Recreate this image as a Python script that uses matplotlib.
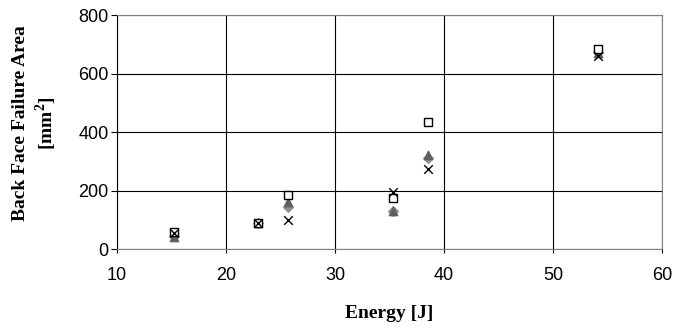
import matplotlib.pyplot as plt

# impact energy [J] for each test
energy = [15.2, 22.9, 25.7, 35.3, 38.5, 54.1]

# back face failure area [mm^2] per series
area_square = [57, 88, 185, 175, 433, 685]
area_diamond = [45, 88, 145, 130, 312, 675]
area_triangle = [40, 88, 160, 130, 323, 672]
area_cross = [55, 88, 100, 195, 275, 660]

plt.rcParams['font.family'] = ['Liberation Sans', 'DejaVu Sans']
plt.rcParams['mathtext.fontset'] = 'custom'
plt.rcParams['mathtext.bf'] = 'Liberation Serif:bold'
plt.rcParams['mathtext.rm'] = 'Liberation Serif:bold'

fig = plt.figure(figsize=(6.77, 3.29), dpi=100)
ax = fig.add_axes([0.173, 0.243, 0.805, 0.711])

ax.scatter(energy, area_diamond, marker='D', s=24, color='#909090', zorder=3)
ax.scatter(energy, area_triangle, marker='^', s=36, color='#606060', zorder=4)
ax.scatter(energy, area_square, marker='s', s=32, facecolor='white', edgecolor='black', linewidth=1, zorder=5)
ax.scatter(energy, area_cross, marker='x', s=38, color='black', linewidth=1, zorder=6)

ax.set_xlim(10, 60)
ax.set_ylim(0, 800)
ax.set_xticks([10, 20, 30, 40, 50, 60])
ax.set_yticks([0, 200, 400, 600, 800])
ax.grid(True, color='black', linewidth=0.8)
ax.set_axisbelow(True)
for side in ['top', 'right', 'bottom']:
    ax.spines[side].set_color('#808080')
ax.spines['left'].set_color('black')
ax.tick_params(axis='both', labelsize=13, width=0.8)
ax.tick_params(axis='x', length=3, pad=10)
ax.tick_params(axis='y', length=4, pad=2)

ax.set_xlabel('Energy [J]', fontfamily='Liberation Serif', fontweight='bold', fontsize=14, labelpad=15)
ax.set_ylabel('Back Face Failure Area\n[mm$^{\\mathbf{2}}$]', fontfamily='Liberation Serif',
              fontweight='bold', fontsize=14, linespacing=1.25)
ax.yaxis.set_label_coords(-0.106, 0.54)

plt.savefig('out.png')
